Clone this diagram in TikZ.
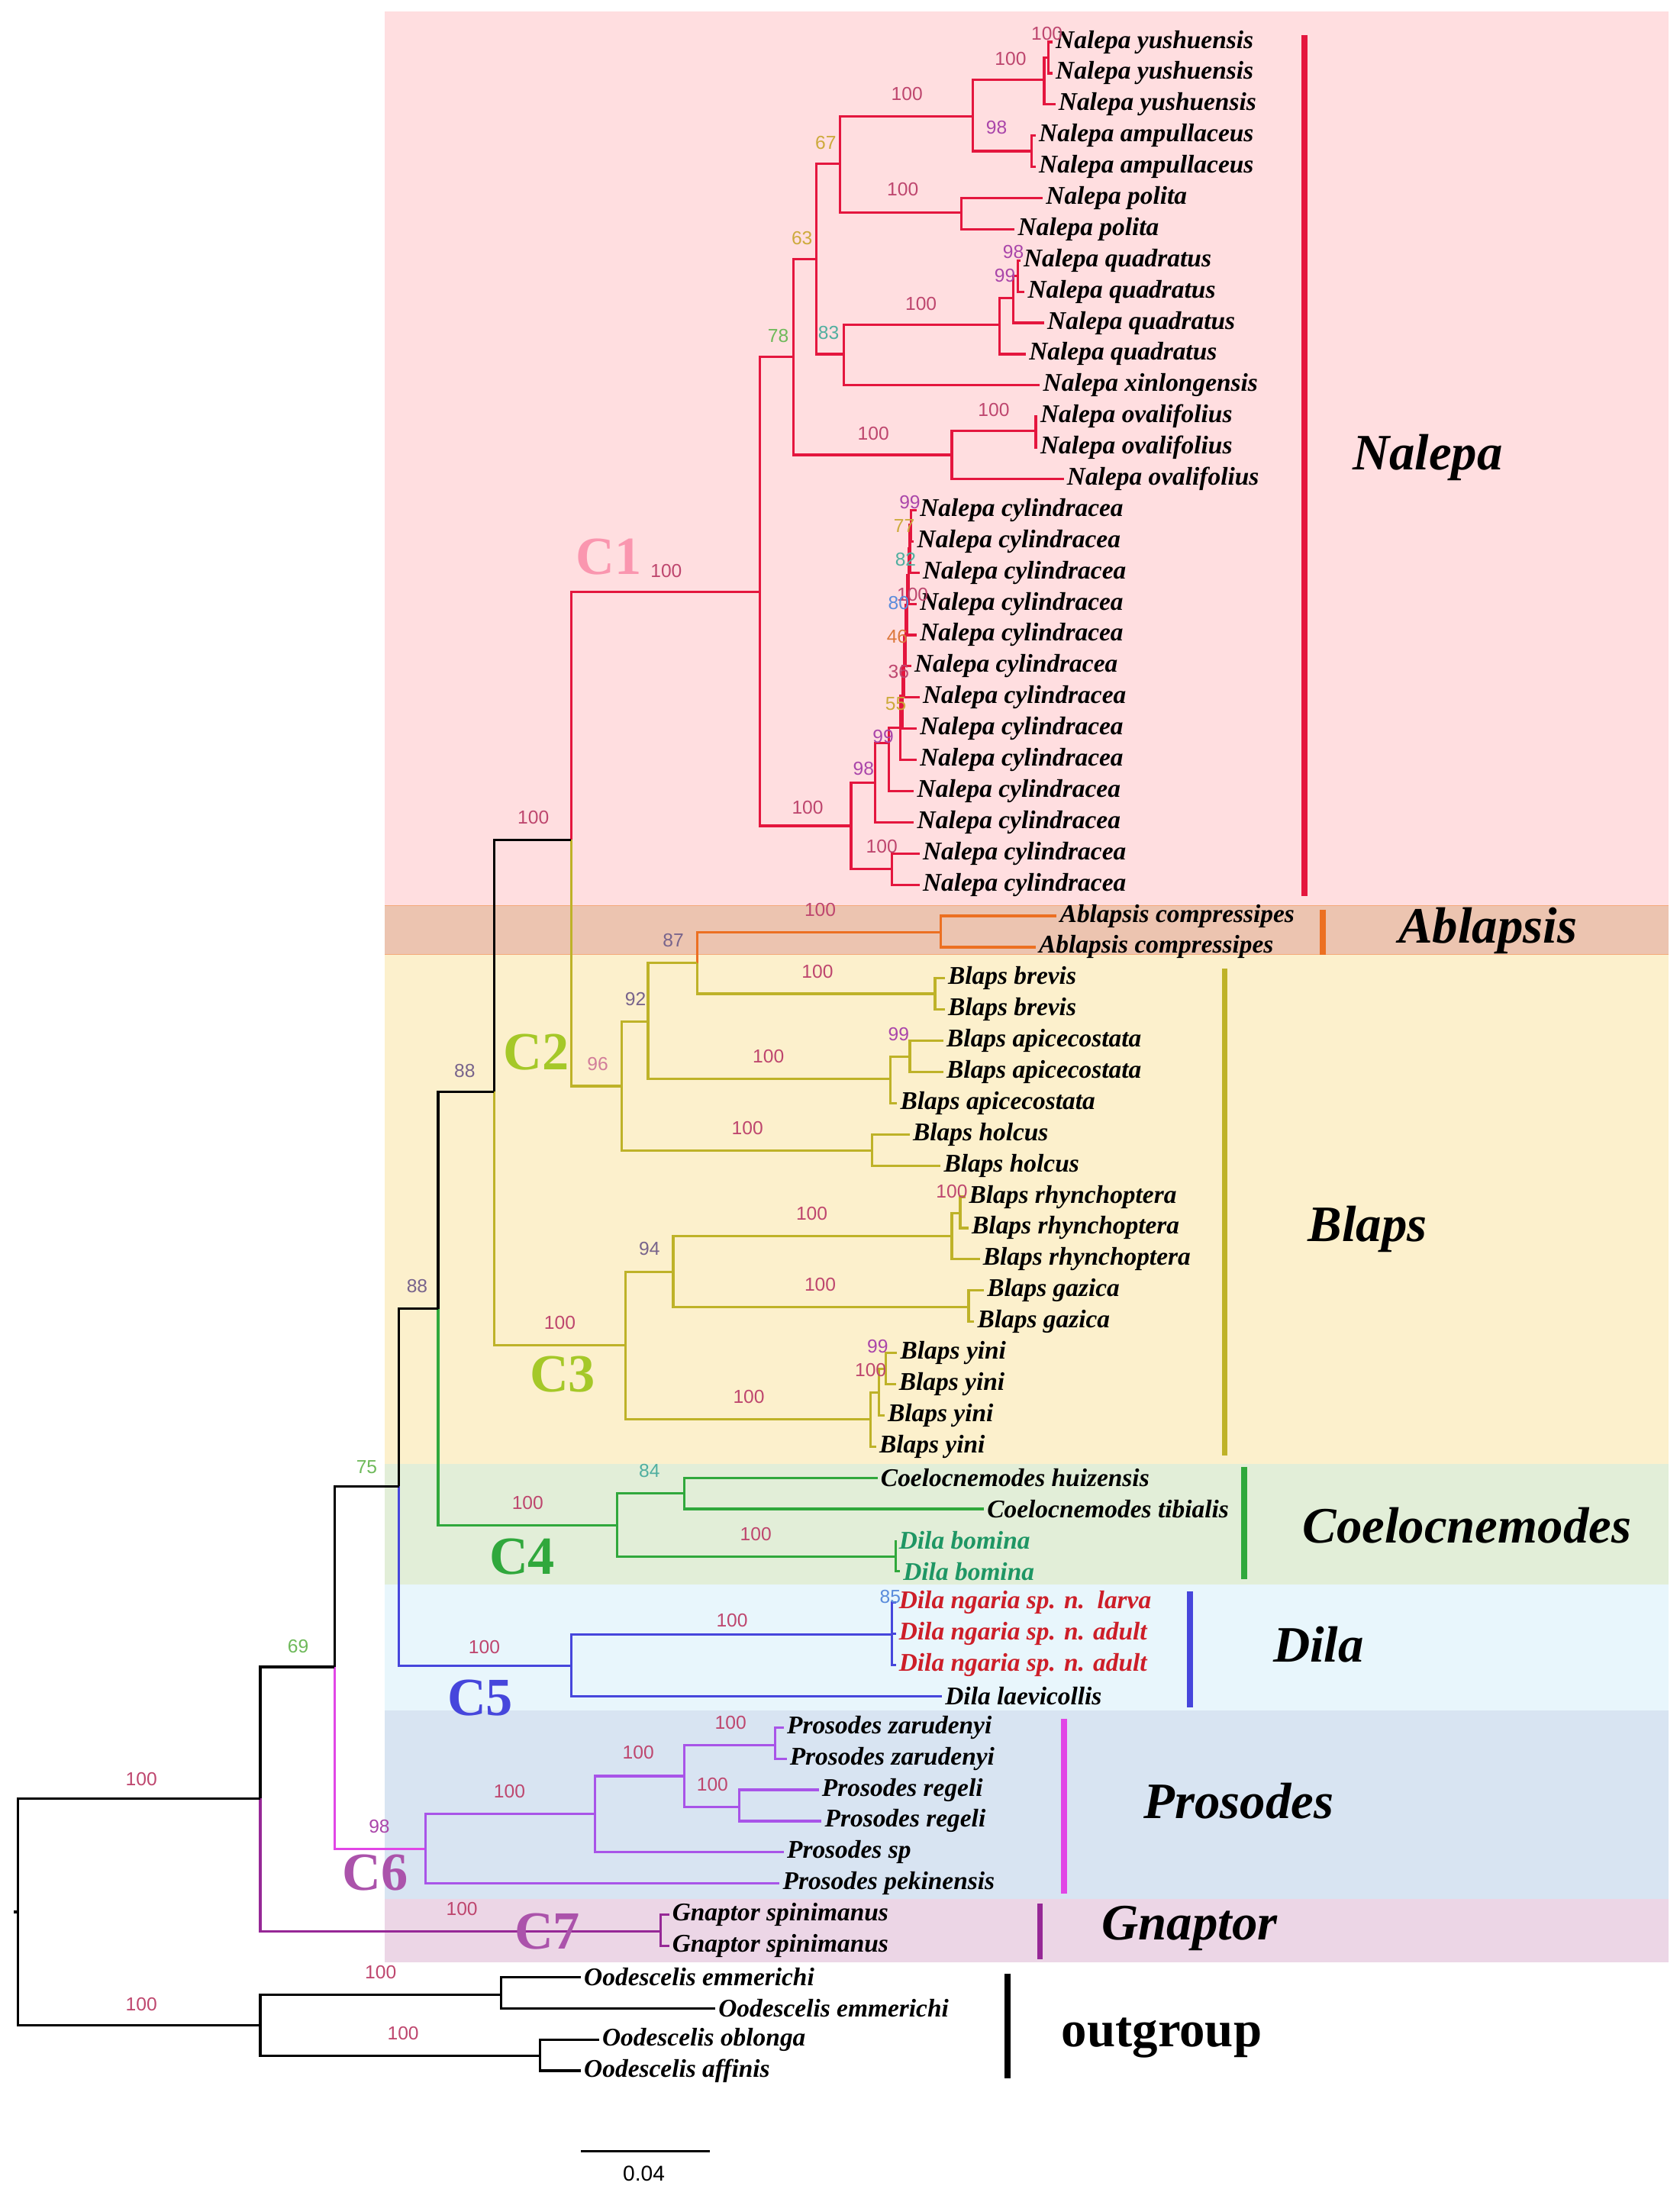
\documentclass[tikz,border=0pt]{standalone}
\usepackage{fontspec}
\setmainfont{Liberation Serif}
\newfontfamily\bsfont{Liberation Sans}
\usepackage{tikz}
\definecolor{nalRed}{RGB}{228,22,62}
\definecolor{ablOrange}{RGB}{236,112,34}
\definecolor{blapsOlive}{RGB}{190,178,40}
\definecolor{coeGreen}{RGB}{48,168,60}
\definecolor{dilaBlue}{RGB}{70,70,220}
\definecolor{proMagenta}{RGB}{225,70,230}
\definecolor{proPurple}{RGB}{168,84,232}
\definecolor{gnaPurple}{RGB}{150,40,150}
\definecolor{bgNal}{RGB}{255,222,224}
\definecolor{bgAbl}{RGB}{236,196,176}
\definecolor{bgBla}{RGB}{252,240,204}
\definecolor{bgCoe}{RGB}{226,238,216}
\definecolor{bgDil}{RGB}{232,246,252}
\definecolor{bgPro}{RGB}{216,228,242}
\definecolor{bgGna}{RGB}{236,214,230}
\definecolor{bsMauve}{RGB}{190,70,110}
\definecolor{bsGold}{RGB}{205,170,60}
\definecolor{bsTeal}{RGB}{80,175,160}
\definecolor{bsLeaf}{RGB}{110,185,90}
\definecolor{bsPurple}{RGB}{170,70,170}
\definecolor{bsGrey}{RGB}{120,100,140}
\definecolor{bsBlue}{RGB}{90,140,220}
\definecolor{bsOrange}{RGB}{220,120,60}
\definecolor{labPink}{RGB}{250,150,175}
\definecolor{labLime}{RGB}{165,200,40}
\definecolor{redText}{RGB}{205,30,40}
\definecolor{greenText}{RGB}{30,150,100}

\begin{document}
\begin{tikzpicture}[x=0.018333cm, y=-0.018333cm,
    leaf/.style={anchor=west, inner sep=1pt, font=\fontsize{9.5}{11}\selectfont\bfseries\itshape},
    bs/.style={font=\bsfont\fontsize{7}{8}\selectfont, text=bsMauve, inner sep=0pt},
    clade/.style={font=\fontsize{19}{22}\selectfont\bfseries\itshape},
    cname/.style={font=\fontsize{20}{22}\selectfont\bfseries},
    bar/.style={line width=2.2pt},
    branch/.style={line width=0.9pt}]
    \useasboundingbox (0,0) rectangle (1200,1564);
    % background bands
    \fill[bgNal] (275,8) rectangle (1192,647);
    \fill[bgAbl] (275,647) rectangle (1192,682);
    \draw[ablOrange!60, line width=0.5pt] (275,647) -- (1192,647) (275,682) -- (1192,682);
    \fill[bgBla] (275,682) rectangle (1192,1046);
    \fill[bgCoe] (275,1046) rectangle (1192,1132);
    \fill[bgDil] (275,1132) rectangle (1192,1222);
    \fill[bgPro] (275,1222) rectangle (1192,1357);
    \fill[bgGna] (275,1357) rectangle (1192,1402);

    % leaves
    \foreach \i/\x/\t in {1/752/Nalepa yushuensis, 2/752/Nalepa yushuensis, 3/754/Nalepa yushuensis,
        4/740/Nalepa ampullaceus, 5/740/Nalepa ampullaceus, 6/745/Nalepa polita, 7/725/Nalepa polita,
        8/729/Nalepa quadratus, 9/732/Nalepa quadratus, 10/746/Nalepa quadratus, 11/733/Nalepa quadratus,
        12/743/Nalepa xinlongensis, 13/741/Nalepa ovalifolius, 14/741/Nalepa ovalifolius, 15/760/Nalepa ovalifolius,
        16/655/Nalepa cylindracea, 17/653/Nalepa cylindracea, 18/657/Nalepa cylindracea, 19/655/Nalepa cylindracea,
        20/655/Nalepa cylindracea, 21/651/Nalepa cylindracea, 22/657/Nalepa cylindracea, 23/655/Nalepa cylindracea,
        24/655/Nalepa cylindracea, 25/653/Nalepa cylindracea, 26/653/Nalepa cylindracea, 27/657/Nalepa cylindracea,
        28/657/Nalepa cylindracea, 29/755/Ablapsis compressipes, 30/740/Ablapsis compressipes,
        31/675/Blaps brevis, 32/675/Blaps brevis, 33/674/Blaps apicecostata, 34/674/Blaps apicecostata,
        35/641/Blaps apicecostata, 36/650/Blaps holcus, 37/672/Blaps holcus, 38/690/Blaps rhynchoptera,
        39/692/Blaps rhynchoptera, 40/700/Blaps rhynchoptera, 41/703/Blaps gazica, 42/696/Blaps gazica,
        43/641/Blaps yini, 44/640/Blaps yini, 45/632/Blaps yini, 46/626/Blaps yini,
        47/627/Coelocnemodes huizensis, 48/703/Coelocnemodes tibialis, 54/673/Dila laevicollis,
        55/560/Prosodes zarudenyi, 56/562/Prosodes zarudenyi, 57/585/Prosodes regeli, 58/587/Prosodes regeli,
        59/560/Prosodes sp, 60/557/Prosodes pekinensis, 61/478/Gnaptor spinimanus, 62/478/Gnaptor spinimanus,
        63/415/Oodescelis emmerichi, 64/511/Oodescelis emmerichi, 65/428/Oodescelis oblonga, 66/415/Oodescelis affinis}
        \node[leaf] (L\i) at (\x,{30+22.3*(\i-1)}) {\t};
    \foreach \i in {49,50}
        \node[leaf, text=greenText] (L\i) at (640+3*\i-147,{30+22.3*(\i-1)}) {Dila bomina};
    \node[leaf, text=redText] (L51) at (640,{30+22.3*50}) {Dila ngaria sp. n.\ \ larva};
    \node[leaf, text=redText] (L52) at (640,{30+22.3*51}) {Dila ngaria sp. n. adult};
    \node[leaf, text=redText] (L53) at (640,{30+22.3*52}) {Dila ngaria sp. n. adult};

    % internal nodes
    \coordinate (nYu12) at (749,41);  \coordinate (nYu) at (746,57);
    \coordinate (nAmp) at (737,108);  \coordinate (nYA) at (695,83);
    \coordinate (nPol) at (687,152);  \coordinate (nYP) at (600,117);
    \coordinate (nQ12) at (727,197);  \coordinate (nQ123) at (724,213);
    \coordinate (nQ) at (714,232);    \coordinate (nQX) at (603,253);
    \coordinate (nYQ) at (583,185);   \coordinate (nOv12) at (740,308);
    \coordinate (nOv) at (680,325);   \coordinate (nYQO) at (567,255);
    \coordinate (c1) at (651,375);  \coordinate (c2) at (650,392);
    \coordinate (c3) at (649,411);  \coordinate (c4) at (648,432);
    \coordinate (c5) at (647,454);  \coordinate (c6) at (646,476);
    \coordinate (c7) at (645,497);  \coordinate (c8) at (643,520);
    \coordinate (c9) at (635,531);  \coordinate (c10) at (625,559);
    \coordinate (nC1213) at (637,621); \coordinate (nCyl) at (608,590);
    \coordinate (nNal) at (543,423);  \coordinate (nNB) at (408,600);
    \coordinate (nAbl) at (672,666);  \coordinate (nBrev) at (668,710);
    \coordinate (nAB) at (498,688);   \coordinate (nAp12) at (650,755);
    \coordinate (nAp) at (636,771);   \coordinate (nABA) at (463,730);
    \coordinate (nHol) at (623,822);  \coordinate (nABAH) at (444,776);
    \coordinate (nRh12) at (686,867); \coordinate (nRh) at (680,883);
    \coordinate (nGaz) at (692,934);  \coordinate (nRG) at (481,909);
    \coordinate (nY12) at (633,978);  \coordinate (nY123) at (628,995);
    \coordinate (nY) at (622,1014);   \coordinate (nRGY) at (447,961);
    \coordinate (n353) at (353,780);  \coordinate (n313) at (313,935);
    \coordinate (nCoe) at (489,1067); \coordinate (nBom) at (640,1112);
    \coordinate (nCD) at (441,1090);  \coordinate (n285) at (285,1062);
    \coordinate (nNg) at (637,1168);  \coordinate (nDL) at (408,1190);
    \coordinate (n239) at (239,1191); \coordinate (nZ) at (554,1247);
    \coordinate (nR) at (528,1291);   \coordinate (nZR) at (489,1269);
    \coordinate (nZRS) at (425,1296); \coordinate (nP) at (304,1321);
    \coordinate (n186) at (186,1285); \coordinate (nG) at (472,1380);
    \coordinate (nOE) at (358,1425);  \coordinate (nOO) at (386,1469);
    \coordinate (nOut) at (186,1447); \coordinate (root) at (13,1366);

    % branches
    \begin{scope}[every path/.style={branch}]
        \foreach \a/\b in {nYu12/L1, nYu12/L2, nYu/nYu12, nYu/L3, nAmp/L4, nAmp/L5, nYA/nYu, nYA/nAmp,
            nPol/L6, nPol/L7, nYP/nYA, nYP/nPol, nQ12/L8, nQ12/L9, nQ123/nQ12, nQ123/L10, nQ/nQ123, nQ/L11,
            nQX/nQ, nQX/L12, nYQ/nYP, nYQ/nQX, nOv12/L13, nOv12/L14, nOv/nOv12, nOv/L15, nYQO/nYQ, nYQO/nOv,
            c1/L16, c1/L17, c2/c1, c2/L18, c3/c2, c3/L19, c4/c3, c4/L20, c5/c4, c5/L21, c6/c5, c6/L22,
            c7/c6, c7/L23, c8/c7, c8/L24, c9/c8, c9/L25, c10/c9, c10/L26, nC1213/L27, nC1213/L28,
            nCyl/c10, nCyl/nC1213, nNal/nYQO, nNal/nCyl, nNB/nNal}
            \draw[nalRed] (\a) |- (\b);
        \foreach \a/\b in {nAB/nAbl, nAbl/L29, nAbl/L30}
            \draw[ablOrange] (\a) |- (\b);
        \foreach \a/\b in {nBrev/L31, nBrev/L32, nAB/nBrev, nAp12/L33, nAp12/L34, nAp/nAp12, nAp/L35,
            nABA/nAB, nABA/nAp, nHol/L36, nHol/L37, nABAH/nABA, nABAH/nHol, nNB/nABAH,
            nRh12/L38, nRh12/L39, nRh/nRh12, nRh/L40, nGaz/L41, nGaz/L42, nRG/nRh, nRG/nGaz,
            nY12/L43, nY12/L44, nY123/nY12, nY123/L45, nY/nY123, nY/L46, nRGY/nRG, nRGY/nY, n353/nRGY}
            \draw[blapsOlive] (\a) |- (\b);
        \foreach \a/\b in {n313/nCD, nCD/nCoe, nCD/nBom, nCoe/L47, nCoe/L48, nBom/L49, nBom/L50}
            \draw[coeGreen] (\a) |- (\b);
        \foreach \a/\b in {n285/nDL, nDL/nNg, nDL/L54, nNg/L51, nNg/L52, nNg/L53}
            \draw[dilaBlue] (\a) |- (\b);
        \draw[proMagenta] (n239) |- (nP);
        \foreach \a/\b in {nP/nZRS, nP/L60, nZRS/nZR, nZRS/L59, nZR/nZ, nZR/nR, nZ/L55, nZ/L56, nR/L57, nR/L58}
            \draw[proPurple] (\a) |- (\b);
        \foreach \a/\b in {n186/nG, nG/L61, nG/L62}
            \draw[gnaPurple] (\a) |- (\b);
        \foreach \a/\b in {n353/nNB, n313/n353, n285/n313, n239/n285, n186/n239, root/n186, root/nOut,
            nOut/nOE, nOut/nOO, nOE/L63, nOE/L64, nOO/L65, nOO/L66}
            \draw[black] (\a) |- (\b);
        \draw[black] (root) -- ++(-3,0);
    \end{scope}

    % support values
    \foreach \x/\y/\v in {748/24/100, 722/42/100, 648/67/100, 645/135/100, 658/217/100, 710/293/100,
        624/310/100, 476/408/100, 577/577/100, 630/605/100, 381/584/100, 586/650/100, 584/694/100,
        549/755/100, 534/806/100, 580/867/100, 680/851/100, 586/918/100, 400/945/100, 622/979/100,
        535/998/100, 377/1074/100, 540/1096/100, 346/1177/100, 523/1158/100, 522/1231/100, 509/1275/100,
        456/1252/100, 364/1280/100, 101/1271/100, 330/1364/100, 272/1409/100, 288/1453/100, 101/1432/100,
        652/425/100, 642/480/36}
        \node[bs] at (\x,\y) {\v};
    \foreach \x/\y/\v/\c in {590/102/67/bsGold, 573/170/63/bsGold, 556/240/78/bsLeaf, 592/238/83/bsTeal,
        712/91/98/bsPurple, 724/180/98/bsPurple, 718/197/99/bsPurple, 650/359/99/bsPurple, 646/376/77/bsGold,
        647/400/82/bsTeal, 642/431/80/bsBlue, 641/455/46/bsOrange, 640/503/55/bsGold, 631/526/99/bsPurple,
        617/549/98/bsPurple, 481/672/87/bsGrey, 454/714/92/bsGrey, 427/760/96/bsMauve!70, 642/739/99/bsPurple,
        464/892/94/bsGrey, 627/962/99/bsPurple, 464/1051/84/bsTeal, 332/765/88/bsGrey, 298/919/88/bsGrey,
        262/1048/75/bsLeaf, 213/1176/69/bsLeaf, 636/1141/85/bsBlue, 271/1305/98/bsPurple}
        \node[bs, text=\c] at (\x,\y) {\v};

    % clade bars
    \draw[bar, nalRed] (932,25) -- (932,640);
    \draw[bar, ablOrange] (945,650) -- (945,682);
    \draw[bar, blapsOlive] (875,692) -- (875,1040);
    \draw[bar, coeGreen] (889,1048) -- (889,1128);
    \draw[bar, dilaBlue] (850,1137) -- (850,1220);
    \draw[bar, proMagenta] (760,1228) -- (760,1353);
    \draw[bar, gnaPurple] (743,1360) -- (743,1400);
    \draw[bar, black] (720,1410) -- (720,1485);

    % clade names
    \node[clade] (tNal) at (1020,327) {Nalepa};
    \node[clade] (tAbl) at (1063,665) {Ablapsis};
    \node[clade] (tBla) at (977,878) {Blaps};
    \node[clade] (tCoe) at (1048,1090) {Coelocnemodes};
    \node[clade] (tDil) at (942,1175) {Dila};
    \node[clade] (tPro) at (885,1287) {Prosodes};
    \node[clade] (tGna) at (850,1378) {Gnaptor};
    \node[clade, font=\fontsize{19}{22}\selectfont\bfseries] (tOut) at (830,1456) {outgroup};

    % clusters
    \node[cname, text=labPink] (C1) at (435,398) {C1};
    \node[cname, text=labLime] (C2) at (383,752) {C2};
    \node[cname, text=labLime] (C3) at (402,982) {C3};
    \node[cname, text=coeGreen] (C4) at (373,1112) {C4};
    \node[cname, text=dilaBlue] (C5) at (343,1213) {C5};
    \node[cname, text=gnaPurple!80] (C6) at (268,1338) {C6};
    \node[cname, text=gnaPurple!80] (C7) at (391,1380) {C7};

    % scale bar
    \draw[line width=0.9pt] (415,1537) -- (507,1537);
    \node[bs, text=black, font=\bsfont\fontsize{8}{9}\selectfont] (scale) at (460,1553) {0.04};
\end{tikzpicture}
\end{document}
